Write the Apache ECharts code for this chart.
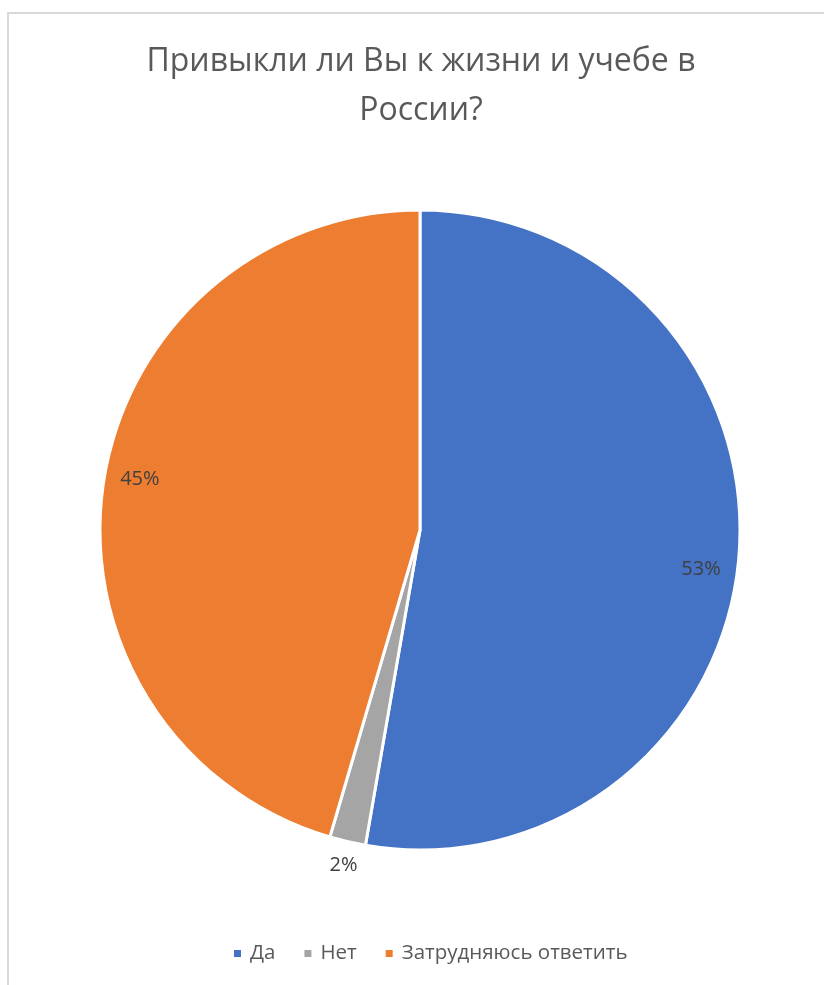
<!DOCTYPE html>
<html>
<head>
<meta charset="utf-8">
<script src="https://cdn.jsdelivr.net/npm/echarts@6/dist/echarts.min.js"></script>
<style>
  html, body { margin: 0; padding: 0; background: #fff; }
  #chart { width: 824px; height: 985px; }
</style>
</head>
<body>
<div id="chart"></div>
<script>
// данные опроса (число ответов)
const categories = ['Да', 'Нет', 'Затрудняюсь ответить'];
const values = [29, 1, 25];
const colors = ['#4472C4', '#A5A5A5', '#ED7D31'];
const titleText = 'Привыкли ли Вы к жизни и учебе в\nРоссии?';

const chart = echarts.init(document.getElementById('chart'));

const pieData = categories.map((name, i) => ({
  name: name,
  value: values[i],
  itemStyle: { color: colors[i] }
}));

// подписи ближе к краю, как в Excel
const labelData = categories.map((name, i) => ({
  name: name,
  value: values[i],
  label: i === 1
    ? { position: 'outside' }
    : { position: 'inside' }
}));

// небольшие сдвиги подписей
const labelNudge = [
  { dx: 1, dy: 15 },
  { align: 'center', dx: 6, dy: 2 },
  { dx: -2, dy: -11 }
];

const option = {
  animation: false,
  graphic: [
    {
      type: 'rect',
      shape: { x: 8, y: 13, width: 900, height: 1000 },
      style: { fill: 'none', stroke: '#D9D9D9', lineWidth: 2 },
      silent: true
    }
  ],
  title: {
    text: titleText,
    left: 416,
    textAlign: 'center',
    top: 32,
    textStyle: {
      fontFamily: 'Open Sans',
      fontWeight: 'normal',
      fontSize: 32,
      lineHeight: 49,
      color: '#595959'
    }
  },
  legend: {
    data: categories,
    bottom: 16,
    left: 227,
    icon: 'rect',
    itemWidth: 9,
    itemHeight: 9,
    itemGap: 27,
    textStyle: {
      fontFamily: 'Open Sans',
      fontSize: 20.5,
      color: '#595959',
      padding: [0, 0, 0, 3]
    }
  },
  series: [
    {
      type: 'pie',
      center: [420, 530],
      radius: [0, 320],
      startAngle: 90,
      clockwise: true,
      silent: true,
      itemStyle: { borderColor: '#fff', borderWidth: 3 },
      label: { show: false },
      labelLine: { show: false },
      data: pieData
    },
    {
      type: 'pie',
      center: [420, 530],
      radius: [236, 320],
      startAngle: 90,
      clockwise: true,
      silent: true,
      legendHoverLink: false,
      percentPrecision: 0,
      itemStyle: { color: 'rgba(0,0,0,0)', borderWidth: 0 },
      label: {
        show: true,
        formatter: '{d}%',
        fontFamily: 'Open Sans',
        fontSize: 20,
        color: '#404040'
      },
      labelLine: { show: false, length: 22, length2: 0 },
      labelLayout: function (params) {
        return labelNudge[params.dataIndex] || {};
      },
      data: labelData
    }
  ]
};

chart.setOption(option);
</script>
</body>
</html>
